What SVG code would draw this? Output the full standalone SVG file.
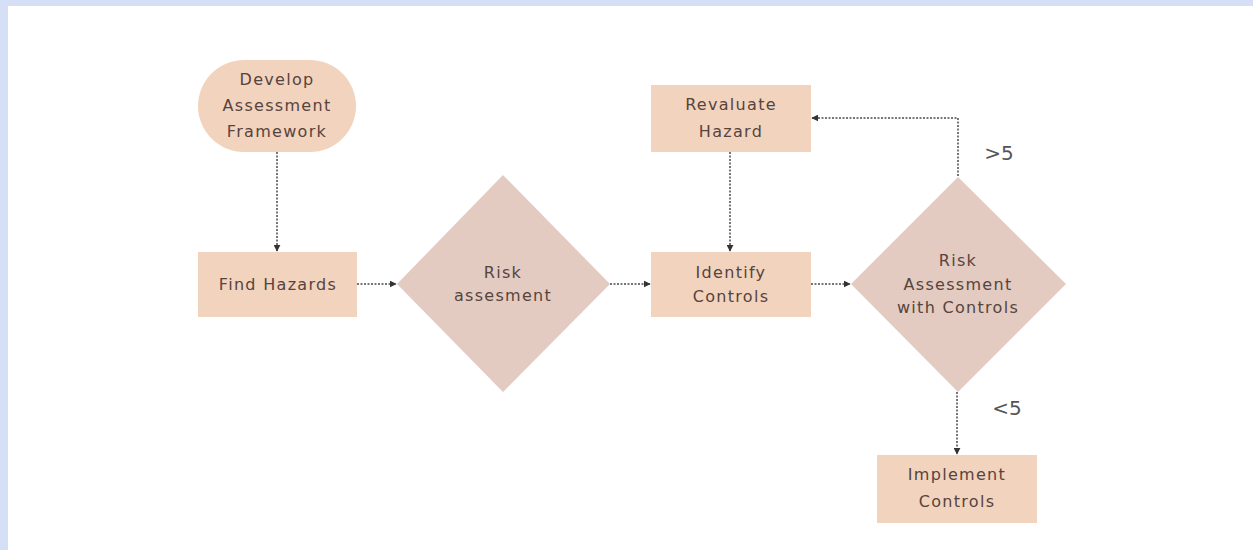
<svg xmlns="http://www.w3.org/2000/svg" width="1253" height="550" viewBox="0 0 1253 550">
<defs>
<style>
.box{fill:#f2d3bd;}
.dia{fill:#e3cbc2;}
.t{font-family:"DejaVu Sans","Liberation Sans",sans-serif;font-size:16px;letter-spacing:1.3px;fill:#56443d;text-anchor:middle;dominant-baseline:central;}
.lbl{font-family:"DejaVu Sans","Liberation Sans",sans-serif;font-size:20px;fill:#555555;text-anchor:middle;dominant-baseline:central;}
.c{fill:none;stroke:#4a4a4a;stroke-width:1.5;stroke-dasharray:2 1.5;}
</style>
<marker id="ah" viewBox="0 0 10 10" refX="9" refY="5" markerWidth="7" markerHeight="7" markerUnits="userSpaceOnUse" orient="auto">
<path d="M0,0 L10,5 L0,10 z" fill="#333333"/>
</marker>
</defs>
<rect x="0" y="0" width="1253" height="550" fill="#ffffff"/>
<rect x="0" y="0" width="1253" height="6" fill="#d5dff6"/>
<rect x="0" y="0" width="8" height="550" fill="#d5dff6"/>
<g id="connectors">
<path class="c" d="M277,152 V251" marker-end="url(#ah)"/>
<path class="c" d="M357,284 H396" marker-end="url(#ah)"/>
<path class="c" d="M610,284 H650" marker-end="url(#ah)"/>
<path class="c" d="M730,152 V251" marker-end="url(#ah)"/>
<path class="c" d="M811,284 H850" marker-end="url(#ah)"/>
<path class="c" d="M958,176 V118 H812" marker-end="url(#ah)"/>
<path class="c" d="M957,392 V454" marker-end="url(#ah)"/>
</g>
<g id="develop">
<rect class="box" x="198" y="60" width="158" height="92" rx="46"/>
<text class="t" x="277" y="79">Develop</text>
<text class="t" x="277" y="105">Assessment</text>
<text class="t" x="277" y="131">Framework</text>
</g>
<g id="find-hazards">
<rect class="box" x="198" y="252" width="159" height="65"/>
<text class="t" x="278" y="284">Find Hazards</text>
</g>
<g id="risk-assessment">
<polygon class="dia" points="503,175 610,284 503,392 397,284"/>
<text class="t" x="503" y="272">Risk</text>
<text class="t" x="503" y="295">assesment</text>
</g>
<g id="revaluate-hazard">
<rect class="box" x="651" y="85" width="160" height="67"/>
<text class="t" x="731" y="104">Revaluate</text>
<text class="t" x="731" y="131">Hazard</text>
</g>
<g id="identify-controls">
<rect class="box" x="651" y="252" width="160" height="65"/>
<text class="t" x="731" y="272">Identify</text>
<text class="t" x="731" y="296">Controls</text>
</g>
<g id="risk-with-controls">
<polygon class="dia" points="958,177 1066,284 958,392 851,284"/>
<text class="t" x="958" y="260">Risk</text>
<text class="t" x="958" y="284">Assessment</text>
<text class="t" x="958" y="307">with Controls</text>
</g>
<g id="implement-controls">
<rect class="box" x="877" y="455" width="160" height="68"/>
<text class="t" x="957" y="474">Implement</text>
<text class="t" x="957" y="501">Controls</text>
</g>
<g id="labels">
<text class="lbl" x="999" y="153">&gt;5</text>
<text class="lbl" x="1007" y="408">&lt;5</text>
</g>
</svg>
